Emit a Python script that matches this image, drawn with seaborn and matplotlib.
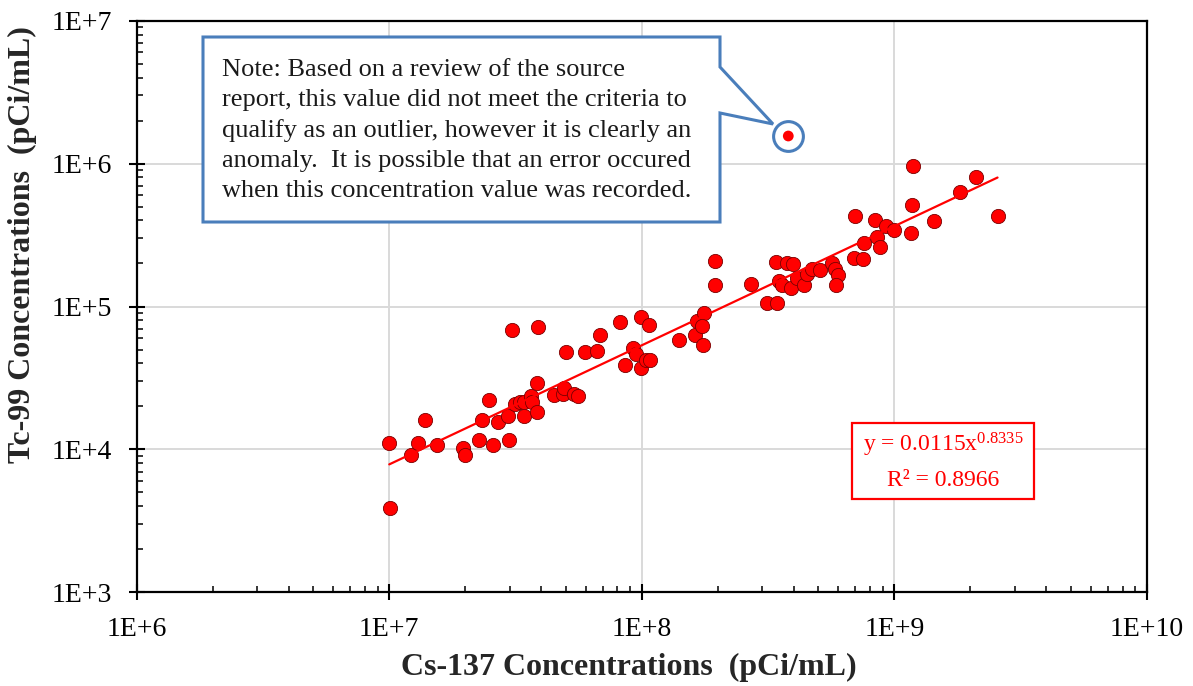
import numpy as np
import pandas as pd
import matplotlib
matplotlib.use("Agg")
import matplotlib.pyplot as plt
import matplotlib.ticker as mticker
from matplotlib.transforms import Affine2D
from matplotlib.patches import Polygon, Rectangle
import seaborn as sns

# ---- data ----
cs137 = [1.00e7, 1.01e7, 1.22e7, 1.30e7, 1.38e7, 1.54e7, 1.95e7, 2.00e7, 2.26e7, 2.57e7,
         2.97e7, 2.32e7, 2.49e7, 2.69e7, 2.95e7, 3.15e7, 3.28e7, 3.40e7, 3.63e7, 3.67e7,
         3.41e7, 3.86e7, 3.86e7, 4.49e7, 4.87e7, 4.92e7, 5.37e7, 5.59e7, 3.07e7, 3.89e7,
         5.02e7, 5.94e7, 6.65e7, 6.81e7, 8.23e7, 9.88e7, 1.07e8, 9.24e7, 9.47e7, 8.61e7,
         9.88e7, 1.04e8, 1.08e8, 1.40e8, 1.63e8, 1.66e8, 1.76e8, 1.73e8, 1.74e8, 1.95e8,
         1.95e8, 2.71e8, 3.12e8, 3.44e8, 3.39e8, 3.76e8, 3.95e8, 3.50e8, 3.60e8, 3.90e8,
         4.10e8, 4.38e8, 4.50e8, 4.71e8, 5.09e8, 5.66e8, 5.83e8, 6.00e8, 5.87e8, 6.96e8,
         6.94e8, 7.51e8, 7.55e8, 8.41e8, 8.54e8, 8.74e8, 9.27e8, 1.00e9, 1.16e9, 1.17e9,
         1.18e9, 1.44e9, 1.82e9, 2.10e9, 2.56e9]
tc99 = [1.10e4, 3.89e3, 9.20e3, 1.11e4, 1.60e4, 1.08e4, 1.03e4, 9.19e3, 1.17e4, 1.08e4,
        1.16e4, 1.60e4, 2.22e4, 1.55e4, 1.72e4, 2.09e4, 2.13e4, 2.16e4, 2.35e4, 2.16e4,
        1.72e4, 1.82e4, 2.93e4, 2.41e4, 2.45e4, 2.68e4, 2.45e4, 2.37e4, 6.89e4, 7.18e4,
        4.77e4, 4.77e4, 4.87e4, 6.36e4, 7.78e4, 8.46e4, 7.46e4, 5.13e4, 4.68e4, 3.89e4,
        3.69e4, 4.22e4, 4.22e4, 5.87e4, 6.29e4, 7.91e4, 9.04e4, 7.26e4, 5.36e4, 2.09e5,
        1.41e5, 1.44e5, 1.06e5, 1.06e5, 2.04e5, 2.00e5, 1.97e5, 1.50e5, 1.41e5, 1.35e5,
        1.59e5, 1.41e5, 1.68e5, 1.83e5, 1.80e5, 2.02e5, 1.84e5, 1.66e5, 1.41e5, 4.28e5,
        2.18e5, 2.14e5, 2.80e5, 4.00e5, 3.06e5, 2.61e5, 3.65e5, 3.41e5, 3.28e5, 5.17e5,
        9.69e5, 3.96e5, 6.32e5, 8.12e5, 4.28e5]
outlier_cs = [3.80e8]
outlier_tc = [1.56e6]

fit_coef = 0.0115
fit_exp = 0.8335
fit_r2 = 0.8966

x_ticks = [1e6, 1e7, 1e8, 1e9, 1e10]
y_ticks = [1e3, 1e4, 1e5, 1e6, 1e7]

note_lines = ["Note: Based on a review of the source",
              "report, this value did not meet the criteria to",
              "qualify as an outlier, however it is clearly an",
              "anomaly.  It is possible that an error occured",
              "when this concentration value was recorded."]

# ---- style ----
sns.set_theme(style="white")
plt.rcParams['font.family'] = ['Liberation Serif', 'DejaVu Serif']
plt.rcParams['mathtext.fontset'] = 'custom'
plt.rcParams['mathtext.rm'] = 'Liberation Serif'
plt.rcParams['mathtext.it'] = 'Liberation Serif:italic'

W, H = 1193, 686
fig = plt.figure(figsize=(W / 100, H / 100), dpi=100)
ax = fig.add_axes([136.7 / W, 1 - 592.3 / H, (1147 - 136.7) / W, (592.3 - 20.7) / H])
ax.set_xscale('log')
ax.set_yscale('log')
ax.set_xlim(x_ticks[0], x_ticks[-1])
ax.set_ylim(y_ticks[0], y_ticks[-1])

# grid
ax.grid(True, which='major', color='#d9d9d9', linewidth=1.4, zorder=0)
ax.set_axisbelow(True)

# trend line
df = pd.DataFrame({'cs': cs137, 'tc': tc99})
xs = np.logspace(np.log10(min(cs137)), np.log10(max(cs137)), 50)
fit_df = pd.DataFrame({'cs': xs, 'tc': fit_coef * xs ** fit_exp})

sns.scatterplot(data=df, x='cs', y='tc', ax=ax, s=105, color='#ff0000',
                edgecolor='#7a0000', linewidth=0.6, zorder=3)
sns.lineplot(data=fit_df, x='cs', y='tc', ax=ax, color='#ff0000', linewidth=1.6, zorder=4)

# outlier with circle
odf = pd.DataFrame({'cs': outlier_cs, 'tc': outlier_tc})
sns.scatterplot(data=odf, x='cs', y='tc', ax=ax, s=460, marker='o', facecolor='white',
                edgecolor='#4a7ebb', linewidth=2.2, zorder=5)
sns.scatterplot(data=odf, x='cs', y='tc', ax=ax, s=60, color='#ff0000',
                edgecolor='none', linewidth=0, zorder=6)

# ticks
ax.xaxis.set_major_locator(mticker.FixedLocator(x_ticks))
ax.yaxis.set_major_locator(mticker.FixedLocator(y_ticks))
ax.xaxis.set_minor_locator(mticker.LogLocator(base=10, subs=np.arange(2, 10), numticks=20))
ax.yaxis.set_minor_locator(mticker.LogLocator(base=10, subs=np.arange(2, 10), numticks=20))
fmt = mticker.FuncFormatter(lambda v, p: f"1E+{int(round(np.log10(v)))}")
ax.xaxis.set_major_formatter(fmt)
ax.yaxis.set_major_formatter(fmt)
ax.xaxis.set_minor_formatter(mticker.NullFormatter())
ax.yaxis.set_minor_formatter(mticker.NullFormatter())
ax.tick_params(which='major', direction='inout', length=12, width=1.5, labelsize=20,
               colors='black', bottom=True, left=True)
ax.tick_params(which='minor', direction='in', length=4, width=1.3, bottom=True, left=True)
ax.tick_params(axis='x', which='major', pad=12)
ax.tick_params(axis='y', which='major', pad=12)
for s in ax.spines.values():
    s.set_color('black')
    s.set_linewidth(1.6)

ax.set_xlabel("Cs-137 Concentrations  (pCi/mL)", fontsize=23, fontweight='bold')
ax.set_ylabel("Tc-99 Concentrations  (pCi/mL)", fontsize=23, fontweight='bold')
ax.xaxis.set_label_coords((629 - 136.7) / (1147 - 136.7), (592.3 - 667) / (592.3 - 20.7))
ax.yaxis.set_label_coords((22 - 136.7) / (1147 - 136.7), (592.3 - 245) / (592.3 - 20.7))
ax.xaxis.label.set_va('center')
ax.yaxis.label.set_va('center')

# pixel transform (top-left origin)
pxT = Affine2D().scale(1 / W, -1 / H).translate(0, 1) + fig.transFigure

# callout
callout = Polygon([(203, 37), (720, 37), (720, 67), (773, 124), (720, 113), (720, 222), (203, 222)],
                  closed=True, facecolor='white', edgecolor='#4a7ebb', linewidth=2.2,
                  transform=pxT, zorder=10)
fig.patches.append(callout)
for i, line in enumerate(note_lines):
    fig.text(222 / W, 1 - (70 + i * 30.3) / H, line, fontsize=19, color='#1a1a1a',
             ha='left', va='center', zorder=11)

# equation box
eq_box = Rectangle((852, 423), 182, 76, facecolor='white', edgecolor='#ff0000',
                   linewidth=1.6, transform=pxT, zorder=10)
fig.patches.append(eq_box)
fig.text(943 / W, 1 - 445 / H, f"y = {fit_coef}x$^{{{fit_exp}}}$", fontsize=17,
         color='#ff0000', ha='center', va='center', zorder=11)
fig.text(943 / W, 1 - 480 / H, f"R² = {fit_r2}", fontsize=17,
         color='#ff0000', ha='center', va='center', zorder=11)

fig.savefig("out.png", dpi=100)
